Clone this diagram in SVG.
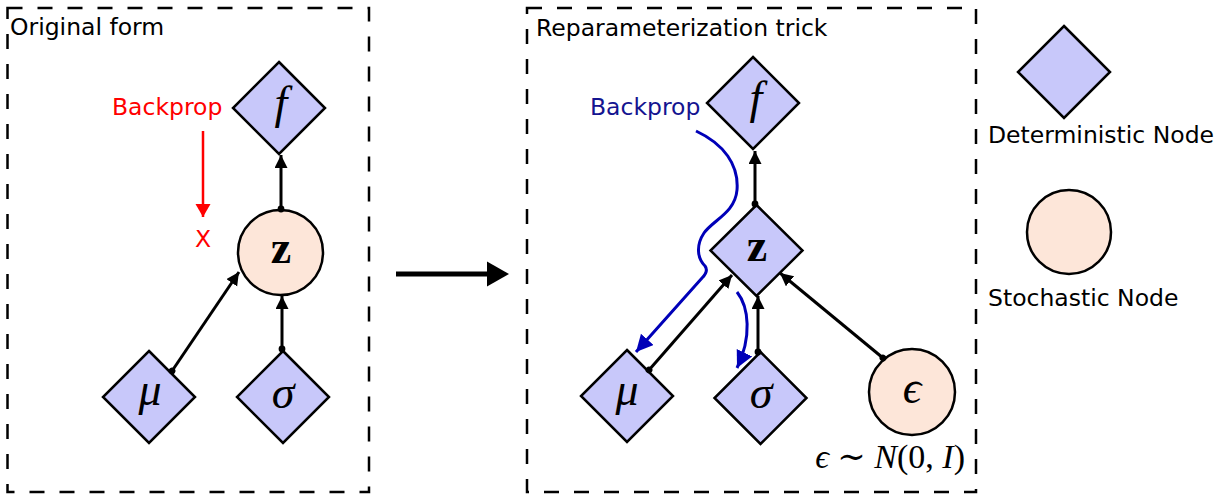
<svg xmlns="http://www.w3.org/2000/svg" width="1224" height="496" viewBox="0 0 1224 496">
  <style>
    .frame { fill: none; stroke: #000; stroke-width: 2.5; stroke-dasharray: 15 15; }
    .title { font-family: "DejaVu Sans", "Liberation Sans", sans-serif; font-size: 23.5px; fill: #000; }
    .det { fill: #c8c8fa; stroke: #000; stroke-width: 2.5; stroke-linejoin: miter; }
    .sto { fill: #fde6d9; stroke: #000; stroke-width: 2.5; }
    .math { font-family: "Liberation Serif", "DejaVu Serif", serif; font-size: 46px; font-style: italic; text-anchor: middle; fill: #000; }
    .bold { font-style: normal; font-weight: bold; }
    .edge { stroke: #000; stroke-width: 3; fill: none; marker-start: url(#dot); marker-end: url(#head); }
    .red { fill: #ff0000; }
    .blue-text { fill: #141490; }
    .blue { stroke: #0000b8; stroke-width: 3; fill: none; marker-end: url(#bluehead); }
  </style>
  <defs>
    <marker id="head" markerUnits="userSpaceOnUse" markerWidth="16" markerHeight="16" refX="13" refY="6.5" orient="auto">
      <path d="M0,0 L13,6.5 L0,13 z" fill="#000"/>
    </marker>
    <marker id="dot" markerUnits="userSpaceOnUse" markerWidth="8" markerHeight="8" refX="4" refY="4" orient="auto">
      <circle cx="4" cy="4" r="3.4" fill="#000"/>
    </marker>
    <marker id="redhead" markerUnits="userSpaceOnUse" markerWidth="14" markerHeight="16" refX="13" refY="7.5" orient="auto">
      <path d="M0,0 L13,7.5 L0,15 z" fill="#ff0000"/>
    </marker>
    <marker id="bluehead" markerUnits="userSpaceOnUse" markerWidth="20" markerHeight="20" refX="17" refY="8.5" orient="auto">
      <path d="M0,0 L17,8.5 L0,17 z" fill="#0000b8"/>
    </marker>
  </defs>

  <!-- panel frames and titles -->
  <rect class="frame" x="7.5" y="8" width="361.5" height="484"/>
  <text class="title" x="10" y="35">Original form</text>
  <rect class="frame" x="527" y="8" width="449" height="484"/>
  <text class="title" x="536" y="36">Reparameterization trick</text>

  <!-- transition arrow between panels -->
  <g id="transition">
    <line x1="396" y1="274" x2="490" y2="274" stroke="#000" stroke-width="5"/>
    <path d="M487,261.5 L509,274 L487,286.5 z" fill="#000"/>
  </g>

  <!-- left panel nodes -->
  <g id="l-f">
    <path class="det" d="M279,62 L325,108 L279,154 L233,108 z"/>
    <text class="math" x="281" y="118">f</text>
  </g>
  <g id="l-z">
    <circle class="sto" cx="280.5" cy="252.5" r="42.5"/>
    <text class="math bold" x="281" y="263">z</text>
  </g>
  <g id="l-mu">
    <path class="det" d="M149,351 L195,397 L149,443 L103,397 z"/>
    <text class="math" x="150" y="405">μ</text>
  </g>
  <g id="l-sigma">
    <path class="det" d="M283,351 L329,397 L283,443 L237,397 z"/>
    <text class="math" x="283" y="408">σ</text>
  </g>

  <!-- right panel nodes -->
  <g id="r-f">
    <path class="det" d="M753,57 L799,103 L753,149 L707,103 z"/>
    <text class="math" x="756" y="113">f</text>
  </g>
  <g id="r-z">
    <path class="det" d="M756.5,205 L802.5,250.5 L756.5,296 L710.5,250.5 z"/>
    <text class="math bold" x="757" y="261">z</text>
  </g>
  <g id="r-mu">
    <path class="det" d="M627,350 L673,396 L627,442 L581,396 z"/>
    <text class="math" x="627" y="405">μ</text>
  </g>
  <g id="r-sigma">
    <path class="det" d="M760.5,352 L806.5,398 L760.5,444 L714.5,398 z"/>
    <text class="math" x="761" y="408">σ</text>
  </g>
  <g id="r-eps">
    <circle class="sto" cx="912" cy="392" r="43"/>
    <text class="math" x="912" y="403">ϵ</text>
  </g>
  <text id="eps-dist" font-family="Liberation Serif, DejaVu Serif, serif" font-size="34" text-anchor="end" x="965" y="468"><tspan font-style="italic">ϵ</tspan> ∼ <tspan font-style="italic">N</tspan>(0, <tspan font-style="italic">I</tspan>)</text>

  <!-- legend -->
  <g id="legend-det">
    <path class="det" d="M1064,26 L1110,72 L1064,118 L1018,72 z"/>
    <text class="title" x="988" y="143">Deterministic Node</text>
  </g>
  <g id="legend-sto">
    <circle class="sto" cx="1069" cy="232" r="42"/>
    <text class="title" x="988" y="306">Stochastic Node</text>
  </g>

  <!-- connectors -->
  <g id="connectors">
    <line class="edge" x1="281" y1="209" x2="281" y2="155"/>
    <line class="edge" x1="282" y1="349" x2="282" y2="296"/>
    <line class="edge" x1="172" y1="371" x2="239" y2="272"/>

    <line class="edge" x1="755" y1="204" x2="755" y2="151"/>
    <line class="edge" x1="758" y1="352" x2="758" y2="296"/>
    <line class="edge" x1="649" y1="370" x2="732" y2="275"/>
    <line class="edge" x1="883" y1="358" x2="780" y2="273"/>
  </g>

  <!-- gradient flow annotations -->
  <g id="backprop-blocked">
    <text class="title red" x="112" y="115">Backprop</text>
    <line x1="203" y1="131" x2="203" y2="217" stroke="#ff0000" stroke-width="2.5" marker-end="url(#redhead)"/>
    <text class="title red" x="203" y="247" text-anchor="middle" font-size="28">X</text>
  </g>
  <g id="backprop-flow">
    <text class="title blue-text" x="590" y="115">Backprop</text>
    <path class="blue" d="M696,131 C724,144 739,165 737,190 C735,213 713,220 704,233 C696,245 697,258 705,266 C708,270 706,274 702,278 L636,352"/>
    <path class="blue" d="M737,292 C749,307 752,337 737,368"/>
  </g>
</svg>
